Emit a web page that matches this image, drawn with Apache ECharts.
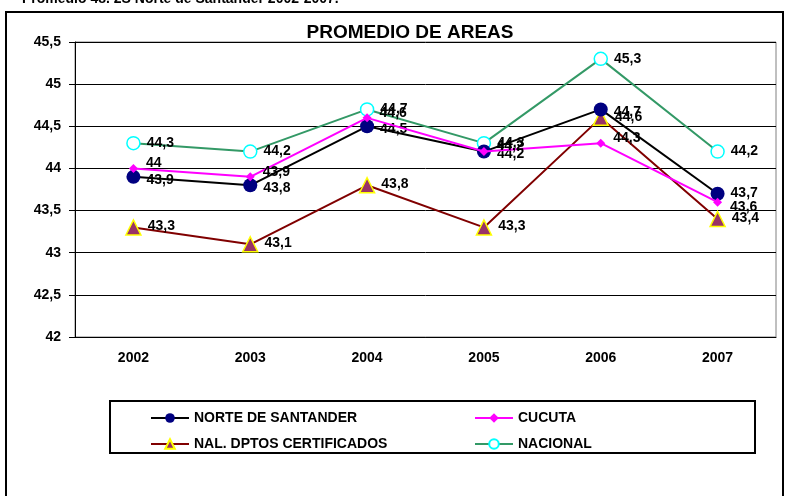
<!DOCTYPE html>
<html>
<head>
<meta charset="utf-8">
<script src="https://cdn.jsdelivr.net/npm/echarts@6/dist/echarts.min.js"></script>
<style>
html, body { margin: 0; padding: 0; background: #fff; }
#chart { width: 788px; height: 496px; }
</style>
</head>
<body>
<div id="chart"></div>
<script>
// datos
const years = ['2002', '2003', '2004', '2005', '2006', '2007']
const norteSantander = [43.9, 43.8, 44.5, 44.2, 44.7, 43.7]
const cucuta = [44, 43.9, 44.6, 44.2, 44.3, 43.6]
const nalDptosCertificados = [43.3, 43.1, 43.8, 43.3, 44.6, 43.4]
const nacional = [44.3, 44.2, 44.7, 44.3, 45.3, 44.2]

const font = 'Liberation Sans, Arial, sans-serif'
const coma = v => String(v).replace('.', ',')

function labelStyle (dx, dy) {
  return {
    show: true,
    position: 'right',
    distance: 6,
    offset: [dx, dy],
    color: '#000',
    fontFamily: font,
    fontWeight: 'bold',
    fontSize: 14,
    formatter: p => coma(p.value)
  }
}

// en 2007 la etiqueta de cucuta va debajo de la de norte
const cucutaData = cucuta.map((v, i) => i === 5 ? { value: v, label: { offset: [2, 5] } } : v)
const norteData = norteSantander.map((v, i) => i === 5 ? { value: v, label: { offset: [0, -1] } } : v)

const myChart = echarts.init(document.getElementById('chart'))
const option = {
  animation: false,
  textStyle: { fontFamily: font },
  graphic: [
    {
      type: 'text',
      left: 22,
      top: -8,
      style: {
        text: 'Promedio 48. 2S Norte de Santander 2002-2007.',
        fontFamily: font,
        fontWeight: 'bold',
        fontSize: 14,
        fill: '#000'
      }
    },
    {
      type: 'rect',
      shape: { x: 6, y: 12, width: 777, height: 500 },
      style: { fill: 'none', stroke: '#000', lineWidth: 2 },
      silent: true
    },
    {
      type: 'rect',
      shape: { x: 110, y: 401, width: 645, height: 52 },
      style: { fill: 'none', stroke: '#000', lineWidth: 2 },
      silent: true
    }
  ],
  title: {
    text: 'PROMEDIO DE AREAS',
    left: 405,
    textAlign: 'center',
    top: 18,
    textStyle: { fontFamily: font, fontWeight: 'bold', fontSize: 19, color: '#000' }
  },
  legend: [
    {
      data: ['NORTE DE SANTANDER', 'NAL. DPTOS CERTIFICADOS'],
      orient: 'vertical',
      left: 145,
      top: 406,
      itemWidth: 38,
      itemHeight: 12,
      itemGap: 12,
      textStyle: { fontFamily: font, fontWeight: 'bold', fontSize: 14, color: '#000' }
    },
    {
      data: ['CUCUTA', 'NACIONAL'],
      orient: 'vertical',
      left: 469,
      top: 406,
      itemWidth: 38,
      itemHeight: 12,
      itemGap: 12,
      textStyle: { fontFamily: font, fontWeight: 'bold', fontSize: 14, color: '#000' }
    }
  ],
  grid: {
    left: 75,
    right: 12,
    top: 42,
    bottom: 159,
    show: true,
    borderColor: '#808080',
    borderWidth: 1
  },
  xAxis: {
    type: 'category',
    data: years,
    boundaryGap: true,
    axisLine: { lineStyle: { color: '#000', width: 1 } },
    axisTick: { inside: true, length: 5, lineStyle: { color: '#000' } },
    axisLabel: { margin: 14, color: '#000', fontWeight: 'bold', fontSize: 14, fontFamily: font },
    splitLine: { show: false }
  },
  yAxis: {
    type: 'value',
    min: 42,
    max: 45.5,
    interval: 0.5,
    axisLine: { show: true, lineStyle: { color: '#000', width: 1 } },
    axisTick: { show: true, length: 6, lineStyle: { color: '#000' } },
    axisLabel: {
      margin: 14,
      color: '#000',
      fontWeight: 'bold',
      fontSize: 14,
      fontFamily: font,
      formatter: v => coma(v)
    },
    splitLine: { show: true, lineStyle: { color: '#000', width: 1 } }
  },
  series: [
    {
      name: 'NACIONAL',
      type: 'line',
      data: nacional,
      symbol: 'circle',
      symbolSize: 13,
      itemStyle: { color: '#fff', borderColor: '#00ffff', borderWidth: 1.5 },
      lineStyle: { color: '#339966', width: 2 },
      label: labelStyle(0, 0),
      z: 2
    },
    {
      name: 'NAL. DPTOS CERTIFICADOS',
      type: 'line',
      data: nalDptosCertificados,
      symbol: 'triangle',
      symbolSize: 15,
      itemStyle: { color: '#993366', borderColor: '#ffff00', borderWidth: 1.5 },
      lineStyle: { color: '#800000', width: 2 },
      label: labelStyle(0, -1),
      z: 3
    },
    {
      name: 'NORTE DE SANTANDER',
      type: 'line',
      data: norteData,
      symbol: 'circle',
      symbolSize: 14,
      itemStyle: { color: '#000080' },
      lineStyle: { color: '#000', width: 2 },
      label: labelStyle(0, 3),
      z: 4
    },
    {
      name: 'CUCUTA',
      type: 'line',
      data: cucutaData,
      symbol: 'diamond',
      symbolSize: 9,
      itemStyle: { color: '#ff00ff' },
      lineStyle: { color: '#ff00ff', width: 2 },
      label: labelStyle(2, -5),
      z: 5
    }
  ]
}
myChart.setOption(option)
</script>
</body>
</html>
